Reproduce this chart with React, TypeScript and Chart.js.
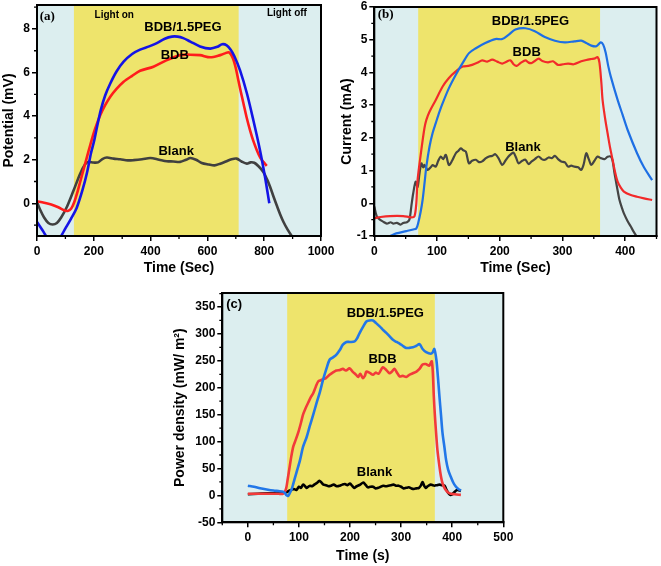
import React, { useEffect, useRef } from "react";
import { Chart, registerables } from "chart.js";
Chart.register(...registerables);

type P = [number, number];

// ---------- Panel (a): Potential (mV) vs Time (Sec) ----------
const potPEG: P[] = [[0,-0.85],[20,-1.25],[40,-1.65],[60,-1.85],[80,-1.6],[100,-1.15],[120,-0.7],[140,-0.2],[160,0.6],[176,1.4],[190,2.3],[200,2.8],[212,3.55],[225,4.3],[240,4.95],[258,5.5],[280,6.05],[305,6.5],[335,6.85],[363,7.05],[395,7.2],[422,7.35],[450,7.55],[475,7.65],[495,7.65],[515,7.58],[540,7.42],[574,7.2],[610,7.1],[635,7.18],[652,7.3],[668,7.25],[682,7.05],[695,6.75],[715,6.1],[739,5.05],[762,3.8],[785,2.45],[803,1.2],[818,0]];
const potBDB: P[] = [[0,0.09],[25,0.03],[50,-0.05],[75,-0.18],[95,-0.32],[108,-0.35],[120,-0.25],[131,0.05],[142,0.5],[152,0.98],[165,1.6],[176,2.13],[188,2.7],[199,3.2],[211,3.65],[223,4.05],[240,4.5],[258,4.89],[280,5.25],[305,5.58],[335,5.85],[363,6.08],[410,6.27],[457,6.57],[504,6.8],[540,6.82],[574,6.8],[610,6.7],[645,6.8],[662,6.88],[676,6.93],[690,6.65],[700,6.2],[709,5.65],[718,5.1],[727,4.58],[738,3.95],[750,3.36],[762,2.85],[774,2.44],[786,2.1],[797,1.9],[809,1.72]];
const potBlank: P[] = [[0,0.06],[12,-0.32],[25,-0.65],[40,-0.9],[55,-0.97],[70,-0.9],[85,-0.65],[105,-0.17],[129,0.6],[152,1.36],[170,1.8],[180,1.9],[199,1.87],[215,1.88],[230,2.03],[246,2.1],[270,2.05],[293,2.02],[320,1.97],[340,1.98],[370,2.02],[399,2.08],[430,2.0],[457,1.93],[480,1.92],[504,1.9],[525,2.0],[540,2.08],[560,2.0],[580,1.85],[605,1.78],[625,1.74],[645,1.82],[665,1.92],[685,2.02],[703,2.05],[720,1.92],[739,1.82],[752,1.88],[765,1.86],[780,1.7],[797,1.44],[810,1.1],[821,0.75],[833,0.3],[844,-0.09],[856,-0.5],[868,-0.86],[882,-1.2],[897,-1.5],[910,-1.7]];
const potXTicks = [0, 200, 400, 600, 800, 1000];
const potYTicks = [0, 2, 4, 6, 8];
const potLight = [130, 710];

// ---------- Panel (b): Current (mA) vs Time (Sec) ----------
const curPEG: P[] = [[0,-1.15],[15,-1.08],[25,-1.0],[35,-0.92],[51,-0.85],[62,-0.8],[67,-0.77],[70,-0.6],[74,-0.25],[77,0.1],[80,0.6],[83,1.12],[88,1.73],[93,2.15],[98,2.45],[104,2.8],[109,3.06],[119,3.52],[130,3.93],[141,4.29],[151,4.59],[162,4.74],[177,4.9],[193,5.02],[204,5.02],[214,5.15],[225,5.31],[241,5.35],[256,5.26],[272,5.08],[288,4.97],[304,4.92],[319,4.95],[330,4.97],[338,4.9],[346,4.82],[354,4.8],[361,4.92],[365,4.85],[369,4.6],[373,4.2],[377,3.88],[388,3.16],[396,2.7],[404,2.24],[419,1.53],[430,1.1],[443,0.71]];
const curBDB: P[] = [[0,-0.46],[10,-0.42],[25,-0.39],[46,-0.39],[59,-0.43],[64,-0.4],[67,0.0],[69,0.71],[75,1.63],[80,2.3],[83,2.55],[88,2.8],[98,3.16],[109,3.57],[119,3.83],[130,4.03],[141,4.18],[150,4.2],[156,4.23],[165,4.3],[172,4.37],[180,4.33],[188,4.39],[196,4.33],[204,4.27],[210,4.32],[217,4.37],[222,4.25],[227,4.2],[234,4.3],[241,4.37],[246,4.3],[251,4.29],[256,4.35],[262,4.42],[268,4.35],[277,4.31],[285,4.34],[293,4.23],[301,4.25],[309,4.27],[318,4.25],[330,4.34],[338,4.38],[346,4.41],[352,4.43],[356,4.47],[359,4.3],[362,3.7],[364,3.16],[368,2.6],[372,2.14],[376,1.7],[380,1.33],[384,0.95],[388,0.66],[393,0.48],[398,0.36],[408,0.26],[419,0.2],[430,0.15],[443,0.1]];
const curBlank: P[] = [[0,-0.1],[4,-0.4],[9,-0.5],[14,-0.56],[20,-0.62],[26,-0.58],[30,-0.62],[36,-0.6],[42,-0.65],[46,-0.6],[52,-0.58],[56,-0.5],[59,-0.1],[62,0.3],[66,0.66],[69,0.5],[72,0.9],[75,1.22],[78,1.1],[80,1.17],[85,1.02],[90,1.1],[93,1.17],[98,1.12],[102,1.3],[106,1.43],[110,1.35],[114,1.48],[119,1.17],[124,1.3],[130,1.53],[134,1.6],[138,1.68],[142,1.62],[146,1.58],[151,1.22],[156,1.3],[162,1.33],[167,1.26],[172,1.28],[178,1.38],[183,1.43],[188,1.45],[193,1.5],[198,1.38],[204,1.17],[209,1.3],[214,1.43],[218,1.5],[222,1.55],[226,1.4],[230,1.22],[236,1.3],[241,1.33],[246,1.2],[251,1.28],[256,1.35],[262,1.43],[267,1.35],[272,1.33],[278,1.4],[283,1.38],[288,1.45],[293,1.35],[298,1.28],[304,1.25],[309,1.12],[314,1.15],[319,1.12],[325,1.1],[330,1.02],[334,1.2],[338,1.53],[342,1.35],[346,1.17],[351,1.3],[356,1.43],[361,1.38],[367,1.35],[372,1.42],[377,1.43],[380,1.3],[383,0.92],[387,0.5],[391,0.1],[395,-0.15],[398,-0.31],[404,-0.55],[409,-0.71],[413,-0.85],[417,-0.97],[420,-1.05]];
const curXTicks = [0, 100, 200, 300, 400];
const curYTicks = [-1, 0, 1, 2, 3, 4, 5, 6];
const curLight = [70, 360];

// ---------- Panel (c): Power density (mW/m²) vs Time (s) ----------
const powPEG: P[] = [[0,18],[12,16],[24,13.3],[37,11],[50,9],[60,8],[69,7],[73,4],[76,0],[79,-1],[82,4],[86,12],[89,22],[95,42],[102,65],[108,90],[115,108],[121,128],[128,150],[134,170],[141,192],[147,214],[154,236],[160,252],[166,256],[173,261],[180,270],[186,280],[193,285],[200,285],[209,286],[214,292],[219,302],[226,314],[232,323],[238,325],[245,325],[251,320],[258,314],[264,308],[271,302],[278,295],[284,289],[291,285],[297,282],[303,278],[310,274],[316,274],[323,275],[330,278],[336,281],[342,272],[349,266],[358,263],[362,266],[365,272],[369,252],[372,220],[375,184],[378,150],[381,116],[385,88],[388,66],[392,48],[397,35],[402,24],[407,16.4],[412,12],[417,9]];
const powBDB: P[] = [[0,3],[20,3],[40,3],[60,3],[69,3],[72,6],[75,13],[78,30],[82,54],[85,72],[89,91],[94,104],[99,118],[104,135],[108,150],[113,162],[118,172],[123,182],[128,190],[133,202],[138,212],[143,214],[147,216],[153,218],[160,224],[166,228],[173,232],[180,233],[186,235],[192,232],[199,236],[205,230],[212,224],[216,220],[220,226],[225,218],[229,222],[232,230],[238,228],[245,224],[250,228],[256,226],[264,238],[270,234],[277,227],[282,230],[287,235],[292,228],[297,221],[303,222],[310,220],[316,224],[323,227],[330,230],[336,235],[342,243],[348,244],[355,241],[358,246],[360,249],[362,230],[364,184],[366,150],[368,122],[371,85],[375,54],[378,35],[381,22.6],[386,12],[394,4],[405,2],[417,1]];
const powBlank: P[] = [[0,2],[20,3],[40,4],[60,4],[69,5],[76,6],[82,9],[90,12],[95,10],[100,16],[104,14],[108,20],[112,17],[115,14],[118,16],[122,18],[126,17],[130,20],[135,23],[140,27],[144,24],[148,20],[153,19],[158,17],[163,18],[168,20],[174,17],[180,18],[185,20],[190,21],[195,19],[200,22],[204,18],[208,14],[213,17],[220,20],[226,24],[231,19],[235,15],[240,16],[245,16],[250,13],[255,14],[260,16],[265,18],[270,17],[275,18],[280,19],[285,20],[290,18],[295,18],[300,16],[305,13],[310,14],[315,15],[320,13],[325,12],[330,13],[335,14],[339,19],[342,25],[345,18],[348,14],[352,17],[358,20],[362,19],[365,18],[370,19],[375,20],[380,19],[385,18],[389,10],[392,5],[396,1],[400,2],[404,6],[410,10],[417,8]];
const powXTicks = [0, 100, 200, 300, 400, 500];
const powYTicks = [-50, 0, 50, 100, 150, 200, 250, 300, 350];
const powLight = [77, 366];

const SANS = "'Liberation Sans', Arial, sans-serif";
const SERIF = "'Liberation Serif', 'Times New Roman', serif";
const BG = "#dceeef";
const YELLOW = "#eee46c";

type Note = { text: string; x: number; y: number; size: number; family?: string };
type Panel = {
  box: { left: number; top: number; width: number; height: number };
  pad: { top: number; right: number };
  yWidth: number;
  xHeight: number;
  yTitlePad: number;
  xTitlePad: number;
  xRange: [number, number];
  yRange: [number, number];
  xTicks: number[];
  yTicks: number[];
  band: number[];
  xTitle: string;
  yTitle: string;
  series: { data: P[]; color: string; width: number }[];
  notes: Note[];
};

const panels: Panel[] = [
  {
    box: { left: 0, top: 0, width: 335, height: 282 },
    pad: { top: 5, right: 14 },
    yWidth: 37, xHeight: 46, yTitlePad: 1, xTitlePad: 5.6,
    xRange: [0, 1000], yRange: [-1.5, 9.1],
    xTicks: potXTicks, yTicks: potYTicks, band: potLight,
    xTitle: "Time (Sec)", yTitle: "Potential (mV)",
    series: [
      { data: potPEG, color: "#1414e6", width: 2.6 },
      { data: potBDB, color: "#ff1c1c", width: 2.6 },
      { data: potBlank, color: "#404040", width: 2.6 },
    ],
    notes: [
      { text: "(a)", x: 36, y: 8.55, size: 13, family: SERIF },
      { text: "Light on", x: 272, y: 8.64, size: 10 },
      { text: "Light off", x: 880, y: 8.7, size: 10 },
      { text: "BDB/1.5PEG", x: 514, y: 8.05, size: 13 },
      { text: "BDB", x: 485, y: 6.8, size: 13 },
      { text: "Blank", x: 490, y: 2.39, size: 13 },
    ],
  },
  {
    box: { left: 335, top: 0, width: 326, height: 282 },
    pad: { top: 7, right: 4.5 },
    yWidth: 39.3, xHeight: 46, yTitlePad: 4.1, xTitlePad: 5.6,
    xRange: [0, 450], yRange: [-1, 6],
    xTicks: curXTicks, yTicks: curYTicks, band: curLight,
    xTitle: "Time (Sec)", yTitle: "Current (mA)",
    series: [
      { data: curPEG, color: "#1e6fe4", width: 2.2 },
      { data: curBDB, color: "#f22a2a", width: 2.2 },
      { data: curBlank, color: "#444444", width: 2.2 },
    ],
    notes: [
      { text: "(b)", x: 18, y: 5.76, size: 13, family: SERIF },
      { text: "BDB/1.5PEG", x: 249, y: 5.56, size: 13 },
      { text: "BDB", x: 243, y: 4.62, size: 13 },
      { text: "Blank", x: 237, y: 1.72, size: 13 },
    ],
  },
  {
    box: { left: 160, top: 280, width: 360, height: 286 },
    pad: { top: 13, right: 16.7 },
    yWidth: 62.3, xHeight: 43.7, yTitlePad: 12.1, xTitlePad: 1.6,
    xRange: [-50, 500], yRange: [-50, 376],
    xTicks: powXTicks, yTicks: powYTicks, band: powLight,
    xTitle: "Time (s)", yTitle: "Power density (mW/ m\u00B2)",
    series: [
      { data: powPEG, color: "#2277e8", width: 2.6 },
      { data: powBDB, color: "#f23a3a", width: 2.6 },
      { data: powBlank, color: "#000000", width: 2.6 },
    ],
    notes: [
      { text: "(c)", x: -26.7, y: 355, size: 13 },
      { text: "BDB/1.5PEG", x: 269, y: 338, size: 13 },
      { text: "BDB", x: 263.6, y: 252, size: 13 },
      { text: "Blank", x: 248, y: 42, size: 13 },
    ],
  },
];

function minors(ticks: number[], min: number, max: number): number[] {
  const step = ticks[1] - ticks[0];
  const out: number[] = [];
  for (let v = ticks[0] - step / 2; v <= ticks[ticks.length - 1] + step / 2 + 1e-9; v += step) {
    if (v >= min - 1e-9 && v <= max + 1e-9) out.push(v);
  }
  return out;
}

function makePlugin(p: Panel) {
  return {
    id: "panelDecor",
    beforeDraw(chart: any) {
      const { ctx, chartArea: a, scales } = chart;
      ctx.save();
      ctx.fillStyle = BG;
      ctx.fillRect(a.left, a.top, a.right - a.left, a.bottom - a.top);
      const x1 = Math.max(a.left, scales.x.getPixelForValue(p.band[0]));
      const x2 = Math.min(a.right, scales.x.getPixelForValue(p.band[1]));
      ctx.fillStyle = YELLOW;
      ctx.fillRect(x1, a.top, x2 - x1, a.bottom - a.top);
      ctx.restore();
    },
    afterDatasetsDraw(chart: any) {
      const { ctx, chartArea: a, scales } = chart;
      ctx.save();
      ctx.strokeStyle = "#000";
      ctx.lineWidth = 2;
      ctx.strokeRect(a.left, a.top, a.right - a.left, a.bottom - a.top);
      ctx.lineWidth = 1.3;
      ctx.beginPath();
      for (const v of minors(p.xTicks, p.xRange[0], p.xRange[1])) {
        const px = scales.x.getPixelForValue(v);
        ctx.moveTo(px, a.bottom);
        ctx.lineTo(px, a.bottom + 3);
      }
      for (const v of minors(p.yTicks, p.yRange[0], p.yRange[1])) {
        const py = scales.y.getPixelForValue(v);
        ctx.moveTo(a.left, py);
        ctx.lineTo(a.left - 3, py);
      }
      ctx.stroke();
      ctx.fillStyle = "#000";
      ctx.textAlign = "center";
      ctx.textBaseline = "middle";
      for (const n of p.notes) {
        ctx.font = `bold ${n.size}px ${n.family || SANS}`;
        ctx.fillText(n.text, scales.x.getPixelForValue(n.x), scales.y.getPixelForValue(n.y));
      }
      ctx.restore();
    },
  };
}

function PanelChart({ p }: { p: Panel }) {
  const ref = useRef<HTMLCanvasElement>(null);
  useEffect(() => {
    if (!ref.current) return;
    const tickFont = { family: SANS, size: 12, weight: "bold" as const };
    const titleFont = { family: SANS, size: 14, weight: "bold" as const, lineHeight: 1.2 };
    const chart = new Chart(ref.current, {
      type: "line",
      data: {
        datasets: p.series.map((s) => ({
          data: s.data.map(([x, y]) => ({ x, y })),
          borderColor: s.color,
          borderWidth: s.width,
          pointRadius: 0,
          tension: 0.3,
          fill: false,
        })),
      },
      options: {
        responsive: false,
        animation: false,
        devicePixelRatio: 1,
        layout: { padding: { left: 0, top: p.pad.top, right: p.pad.right, bottom: 0 } },
        plugins: { legend: { display: false }, tooltip: { enabled: false } },
        scales: {
          x: {
            type: "linear",
            min: p.xRange[0],
            max: p.xRange[1],
            afterBuildTicks: (s: any) => { s.ticks = p.xTicks.map((v) => ({ value: v })); },
            afterFit: (s: any) => { s.height = p.xHeight; s.paddingLeft = 0; s.paddingRight = 0; },
            ticks: { color: "#000", font: tickFont, padding: 3, maxRotation: 0, autoSkip: false, callback: (v: any) => String(v) },
            grid: { drawOnChartArea: false, drawTicks: true, tickLength: 5, color: "#000", lineWidth: 1.5 },
            border: { display: true, color: "#000", width: 2 },
            title: { display: true, text: p.xTitle, color: "#000", font: titleFont, padding: { top: 0, bottom: p.xTitlePad } },
          },
          y: {
            type: "linear",
            min: p.yRange[0],
            max: p.yRange[1],
            afterBuildTicks: (s: any) => { s.ticks = p.yTicks.map((v) => ({ value: v })); },
            afterFit: (s: any) => { s.width = p.yWidth; s.paddingTop = 0; s.paddingBottom = 0; },
            ticks: { color: "#000", font: tickFont, padding: 2, autoSkip: false, callback: (v: any) => String(v) },
            grid: { drawOnChartArea: false, drawTicks: true, tickLength: 5, color: "#000", lineWidth: 1.5 },
            border: { display: true, color: "#000", width: 2 },
            title: { display: true, text: p.yTitle, color: "#000", font: titleFont, padding: { top: p.yTitlePad, bottom: 0 } },
          },
        },
      } as any,
      plugins: [makePlugin(p)],
    });
    return () => chart.destroy();
  }, [p]);
  return (
    <canvas
      ref={ref}
      width={p.box.width}
      height={p.box.height}
      style={{ position: "absolute", left: p.box.left, top: p.box.top, width: p.box.width, height: p.box.height }}
    />
  );
}

export default function App() {
  return (
    <div style={{ position: "absolute", left: 0, top: 0, width: 661, height: 566, background: "#fff", overflow: "hidden" }}>
      {panels.map((p, i) => (
        <PanelChart key={i} p={p} />
      ))}
    </div>
  );
}
